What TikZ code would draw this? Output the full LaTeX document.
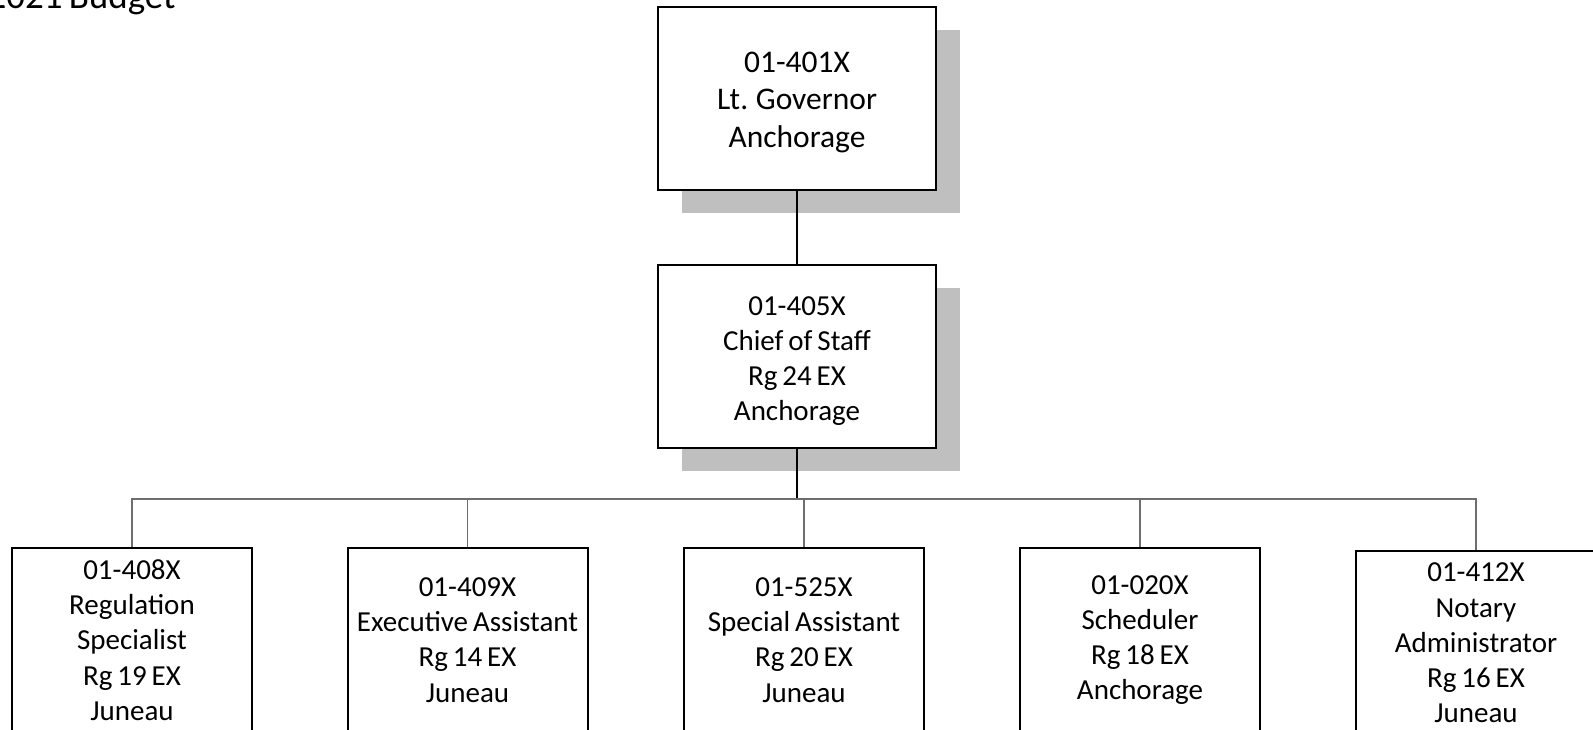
\documentclass[tikz,border=0pt]{standalone}
\usepackage{fontspec}
\setmainfont{Carlito}[WordSpace=0.75]
\usetikzlibrary{shadows}
\definecolor{shadowgray}{HTML}{BFBFBF}
\definecolor{linkgray}{HTML}{6E6E6E}
\newcommand{\toppad}{\rule{0pt}{28pt}}
\begin{document}
\begin{tikzpicture}[x=1pt,y=1pt,
    post/.style={draw=black, line width=2pt, fill=white, align=center, inner sep=0pt,
        font=\fontsize{29}{35.2}\selectfont},
    bigpost/.style={post, minimum width=278pt, minimum height=183pt,
        drop shadow={shadow xshift=24pt, shadow yshift=-23pt, fill=shadowgray, opacity=1}},
    smallpost/.style={post, minimum width=240pt, minimum height=184pt},
    link/.style={draw=linkgray, line width=1.3pt}]
    \useasboundingbox (0,0) rectangle (1593,-729);
    \clip (0,0) rectangle (1593,-729);
    \node[anchor=base west, font=\fontsize{37}{44}\selectfont] (title) at (-16,-8) {2021 Budget};

    \node[bigpost, font=\fontsize{31.5}{37.5}\selectfont] (lgov) at (797,-98.5) {\toppad 01-401X\\Lt. Governor\\Anchorage};
    \node[bigpost] (cos) at (797,-356.5) {\toppad 01-405X\\Chief of Staff\\Rg 24 EX\\Anchorage};

    \node[smallpost] (regspec) at (132,-640) {01-408X\\Regulation\\Specialist\\Rg 19 EX\\Juneau};
    \node[smallpost] (execasst) at (467.5,-640) {01-409X\\Executive Assistant\\Rg 14 EX\\Juneau};
    \node[smallpost] (specasst) at (804,-640) {01-525X\\Special Assistant\\Rg 20 EX\\Juneau};
    \node[smallpost] (sched) at (1140,-640) {01-020X\\Scheduler\\Rg 18 EX\\Anchorage};
    \node[smallpost] (notary) at (1476,-643) {01-412X\\Notary\\Administrator\\Rg 16 EX\\Juneau};

    \coordinate (bus) at (797,-499);
    \draw[line width=1.3pt] (lgov) -- (cos);
    \draw[line width=1.3pt] (cos.south) -- (bus);
    \foreach \post in {regspec,execasst,specasst,sched,notary}
        \draw[link] (bus) -| (\post.north);
\end{tikzpicture}
\end{document}
